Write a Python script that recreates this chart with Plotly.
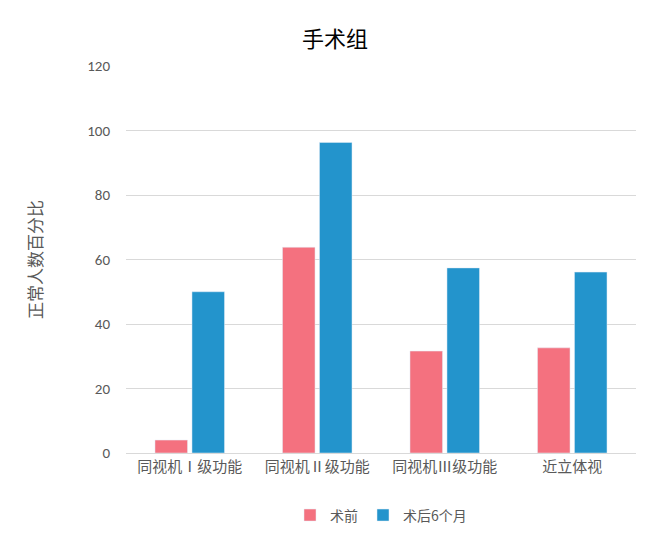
import plotly.graph_objects as go

categories = ['同视机Ⅰ级功能', '同视机Ⅱ级功能', '同视机Ⅲ级功能', '近立体视']
before = [4, 63.8, 31.6, 32.6]
after6 = [50, 96.3, 57.4, 56.1]

fig = go.Figure()
fig.add_trace(go.Bar(x=categories, y=before, name='术前', marker_color='#F4717F'))
fig.add_trace(go.Bar(x=categories, y=after6, name='术后6个月', marker_color='#2394CC'))

fig.update_layout(
    width=654, height=535,
    title=dict(text='手术组', x=0.5, y=0.955, xanchor='center',
               font=dict(size=22, color='#000000', family='Noto Sans CJK SC')),
    font=dict(family='Noto Sans CJK SC', color='#595959', size=15),
    barmode='group', bargap=0.42, bargroupgap=0.12,
    plot_bgcolor='white', paper_bgcolor='white',
    margin=dict(l=118, r=26, t=58, b=75),
    legend=dict(orientation='h', x=0.5, xanchor='center', y=-0.12, yanchor='top',
                font=dict(size=14, color='#595959')),
    yaxis=dict(range=[0, 120], dtick=20, gridcolor='#D9D9D9', zeroline=False,
               automargin=False,
               title=dict(text='正常人数百分比', standoff=40,
                          font=dict(size=17, color='#595959')),
               ticks='outside', ticklen=12, tickcolor='white',
               tickfont=dict(size=15, family='Calibri, Liberation Sans')),
    xaxis=dict(showline=True, linecolor='#D9D9D9', tickfont=dict(size=15)),
)

fig.write_html("out.html")
